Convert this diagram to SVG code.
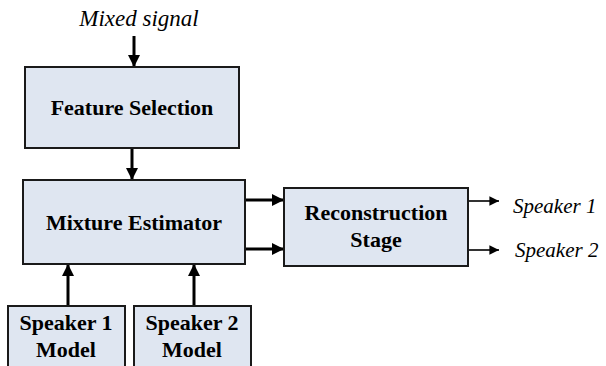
<svg xmlns="http://www.w3.org/2000/svg" width="606" height="366" viewBox="0 0 606 366">
<style>
.box{fill:#dfe6f1;stroke:#1a1a1a;stroke-width:2}
.lbl{font-family:"Liberation Serif","Times New Roman",serif;font-weight:bold;font-size:22px;fill:#000;text-anchor:middle}
.it{font-family:"Liberation Serif","Times New Roman",serif;font-style:italic;font-size:21px;fill:#000}
.c{stroke:#000;stroke-width:3;fill:none}
.c2{stroke:#000;stroke-width:1.6;fill:none}
</style>
<defs>
<marker id="ah" viewBox="0 0 10 10" refX="10" refY="5" markerWidth="4" markerHeight="4" markerUnits="strokeWidth" orient="auto"><path d="M0,0 L10,5 L0,10 z" fill="#000"/></marker>
<marker id="ah2" viewBox="0 0 10 10" refX="10" refY="5" markerWidth="6" markerHeight="6" markerUnits="strokeWidth" orient="auto"><path d="M0,0 L10,5 L0,10 z" fill="#000"/></marker>
</defs>
<rect width="606" height="366" fill="#fff"/>
<text class="it" x="139" y="26" text-anchor="middle" style="font-size:23px">Mixed signal</text>
<g id="connectors">
<line class="c" x1="134" y1="36" x2="134" y2="67" marker-end="url(#ah)"/>
<line class="c" x1="132" y1="148" x2="132" y2="180" marker-end="url(#ah)"/>
<line class="c" x1="245" y1="200" x2="284" y2="200" marker-end="url(#ah)"/>
<line class="c" x1="245" y1="249" x2="284" y2="249" marker-end="url(#ah)"/>
<line class="c" x1="68" y1="306" x2="68" y2="264" marker-end="url(#ah)"/>
<line class="c" x1="194" y1="306" x2="194" y2="264" marker-end="url(#ah)"/>
<line class="c2" x1="468" y1="201" x2="499" y2="201" marker-end="url(#ah2)"/>
<line class="c2" x1="468" y1="250" x2="499" y2="250" marker-end="url(#ah2)"/>
</g>
<g id="feature-selection">
<rect class="box" x="25" y="67" width="214" height="81"/>
<text class="lbl" x="132" y="115">Feature Selection</text>
</g>
<g id="mixture-estimator">
<rect class="box" x="23" y="180" width="222" height="84"/>
<text class="lbl" x="134" y="230">Mixture Estimator</text>
</g>
<g id="reconstruction-stage">
<rect class="box" x="284" y="188" width="184" height="78"/>
<text class="lbl" x="376" y="220">Reconstruction</text>
<text class="lbl" x="376" y="247">Stage</text>
</g>
<g id="speaker1-model">
<rect class="box" x="8" y="306" width="117" height="70"/>
<text class="lbl" x="66" y="330">Speaker 1</text>
<text class="lbl" x="66" y="357">Model</text>
</g>
<g id="speaker2-model">
<rect class="box" x="134" y="306" width="117" height="70"/>
<text class="lbl" x="192" y="330">Speaker 2</text>
<text class="lbl" x="192" y="357">Model</text>
</g>
<text class="it" x="513" y="213">Speaker 1</text>
<text class="it" x="515" y="257">Speaker 2</text>
</svg>
